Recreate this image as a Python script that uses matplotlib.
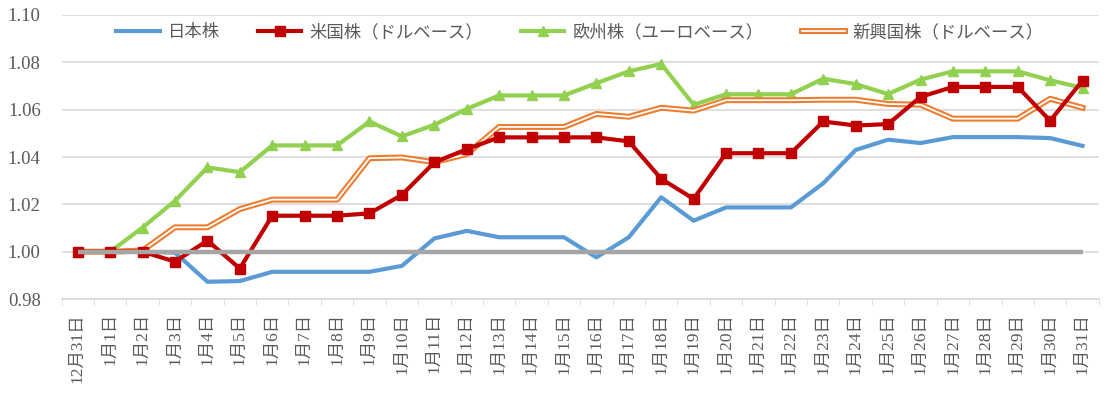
import numpy as np
import matplotlib.pyplot as plt
from matplotlib import patheffects as pe

dates = ['12月31日'] + [f'1月{d}日' for d in range(1, 32)]

japan = [1.000, 1.000, 1.000, 0.9996, 0.9873, 0.9876, 0.9915, 0.9915, 0.9915, 0.9915,
         0.9940, 1.0056, 1.0088, 1.0061, 1.0061, 1.0061, 0.9976, 1.0061, 1.0230, 1.0131,
         1.0187, 1.0187, 1.0187, 1.0289, 1.0430, 1.0473, 1.0459, 1.0484, 1.0484, 1.0484,
         1.0480, 1.0447]
us = [1.000, 1.000, 1.000, 0.9958, 1.0047, 0.9929, 1.0152, 1.0152, 1.0152, 1.0162,
      1.0240, 1.0377, 1.0433, 1.0483, 1.0483, 1.0483, 1.0483, 1.0466, 1.0308, 1.0223,
      1.0416, 1.0416, 1.0416, 1.0550, 1.0533, 1.0539, 1.0654, 1.0696, 1.0696, 1.0696,
      1.0553, 1.0723]
europe = [1.000, 1.000, 1.0102, 1.0215, 1.0356, 1.0336, 1.0449, 1.0449, 1.0449, 1.0550,
          1.0487, 1.0536, 1.0603, 1.0660, 1.0660, 1.0660, 1.0712, 1.0762, 1.0793, 1.0621,
          1.0665, 1.0665, 1.0665, 1.0731, 1.0708, 1.0666, 1.0727, 1.0762, 1.0762, 1.0762,
          1.0724, 1.0692]
emerging = [1.000, 1.000, 1.0005, 1.0103, 1.0103, 1.0180, 1.0220, 1.0220, 1.0220, 1.0395,
            1.0398, 1.0378, 1.0412, 1.0527, 1.0527, 1.0527, 1.0582, 1.0570, 1.0608, 1.0596,
            1.0640, 1.0640, 1.0640, 1.0642, 1.0642, 1.0624, 1.0621, 1.0562, 1.0562, 1.0562,
            1.0646, 1.0608]
baseline = [1.0] * len(dates)

labels = ['日本株', '米国株（ドルベース）', '欧州株（ユーロベース）', '新興国株（ドルベース）']

cjk = ['Noto Sans CJK JP', 'DejaVu Sans']
serif_cjk = ['Liberation Serif', 'Noto Sans CJK JP']
text_color = '#595959'
grid_color = '#D9D9D9'

fig = plt.figure(figsize=(11.11, 3.94), dpi=100)
ax = fig.add_axes([0.0554, 0.241, 0.9336, 0.721])

x = np.arange(len(dates))
ax.plot(x, japan, color='#5B9BD5', lw=3, label=labels[0], zorder=3)
ax.plot(x, us, color='#C00000', lw=3, marker='s', ms=7, label=labels[1], zorder=4)
ax.plot(x, europe, color='#92D050', lw=3, marker='^', ms=7.5, label=labels[2], zorder=3)
ax.plot(x, emerging, color='white', lw=1.3, label=labels[3], zorder=3,
        path_effects=[pe.Stroke(linewidth=4.3, foreground='#ED7D31'), pe.Normal()])
ax.plot(x, baseline, color='#A5A5A5', lw=3.2, zorder=5, solid_capstyle='butt')

ax.set_xlim(-0.5, len(dates) - 0.5)
ax.set_ylim(0.98, 1.10)
ax.set_yticks(np.arange(0.98, 1.1001, 0.02))
ax.set_yticklabels([f'{v:.2f}' for v in np.arange(0.98, 1.1001, 0.02)],
                   family='Liberation Serif', fontsize=13.5, color=text_color)
ax.yaxis.grid(True, color=grid_color, lw=1.2)
ax.set_axisbelow(True)

ax.set_xticks(x)
ax.set_xticklabels(dates, rotation=90, va='top', ha='center',
                   family=serif_cjk, fontsize=12.5, color=text_color)
ax.set_xticks(np.arange(-0.5, len(dates)), minor=True)
ax.tick_params(axis='x', which='major', length=0, pad=10)
ax.tick_params(axis='x', which='minor', length=4, color=grid_color, direction='out')
ax.tick_params(axis='y', length=0, pad=15)

for side in ['top', 'right', 'left']:
    ax.spines[side].set_visible(False)
ax.spines['bottom'].set_color(grid_color)
ax.spines['bottom'].set_linewidth(1.2)

leg = ax.legend(loc='center', bbox_to_anchor=(0.5, 0.94), ncol=4, frameon=False,
                prop={'family': cjk, 'size': 12.5}, handlelength=2.5,
                handletextpad=0.45, columnspacing=2.2)
for t in leg.get_texts():
    t.set_color(text_color)

fig.savefig('out.png', dpi=100)
